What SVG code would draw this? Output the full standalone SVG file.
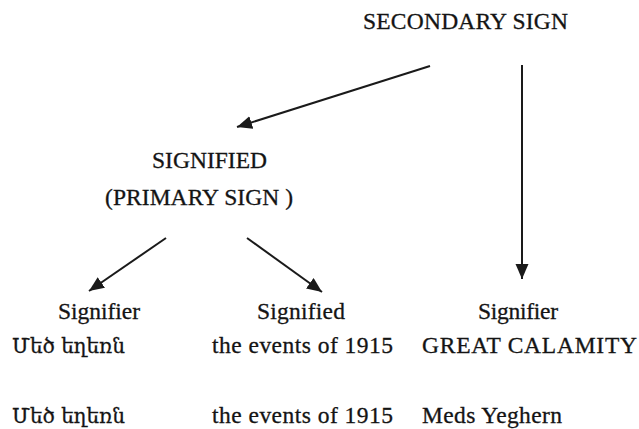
<svg xmlns="http://www.w3.org/2000/svg" width="639" height="429" viewBox="0 0 639 429">
<defs>
<style>
text{font-family:"Liberation Serif","DejaVu Serif",serif;font-size:23.5px;fill:#141414;stroke:#141414;stroke-width:0.3}
text.hy{font-family:"DejaVu Serif","Liberation Serif",serif;font-size:20px}
.c{stroke:#1a1a1a;stroke-width:2;fill:none}
</style>
<marker id="ah" markerUnits="userSpaceOnUse" markerWidth="16" markerHeight="14" refX="15" refY="6.5" orient="auto">
<path d="M0,0 L15,6.5 L0,13 z" fill="#1a1a1a"/>
</marker>
</defs>
<rect width="639" height="429" fill="#fff"/>
<g id="connectors">
<line class="c" x1="430" y1="66" x2="237" y2="127" marker-end="url(#ah)"/>
<line class="c" x1="522" y1="65" x2="522" y2="279" marker-end="url(#ah)"/>
<line class="c" x1="166" y1="238" x2="89" y2="291" marker-end="url(#ah)"/>
<line class="c" x1="247" y1="238" x2="322" y2="292" marker-end="url(#ah)"/>
</g>
<g id="secondary-sign"><text x="363" y="29" textLength="205">SECONDARY SIGN</text></g>
<g id="primary-sign">
<text x="152" y="168" textLength="115">SIGNIFIED</text>
<text x="105" y="205" textLength="188">(PRIMARY SIGN )</text>
</g>
<g id="signifier-left">
<text x="58" y="319" textLength="82">Signifier</text>
<text class="hy" x="12" y="353">Մեծ եղեռն</text>
<text class="hy" x="12" y="423">Մեծ եղեռն</text>
</g>
<g id="signified-mid">
<text x="257" y="319" textLength="88">Signified</text>
<text x="212" y="353" textLength="181">the events of 1915</text>
<text x="212" y="423" textLength="181">the events of 1915</text>
</g>
<g id="signifier-right">
<text x="478" y="319" textLength="80">Signifier</text>
<text x="422" y="353" textLength="215">GREAT CALAMITY</text>
<text x="422" y="423" textLength="140">Meds Yeghern</text>
</g>
</svg>
